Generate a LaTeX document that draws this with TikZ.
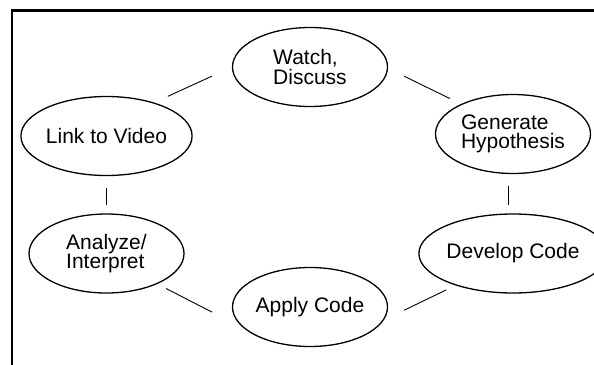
\documentclass[tikz,border=0pt]{standalone}
\usepackage{fontspec}
\setmainfont{Liberation Sans}
\usetikzlibrary{shapes.geometric}
\tikzset{
  bubble/.style={ellipse, draw=black, line width=1.3pt, inner sep=0pt,
    minimum width=155pt, minimum height=79pt, align=left,
    font=\fontsize{21pt}{19.5pt}\selectfont},
  link/.style={draw=black, line width=0.9pt},
  frame/.style={draw=black, line width=2.3pt}
}
\begin{document}
\begin{tikzpicture}[x=1pt,y=-1pt]
\useasboundingbox (0,0) rectangle (594,364);
\draw[frame] (12.2,366) -- (12.2,10.5) -- (596,10.5);
\node[bubble] (watch) at (310,67) {Watch,\\Discuss};
\node[bubble] (linkv) at (106.5,136) {Link to Video};
\node[bubble] (gen) at (513,134) {Generate\\Hypothesis};
\node[bubble] (ana) at (106.5,253.5) {Analyze/\\Interpret};
\node[bubble] (dev) at (513,253.5) {Develop Code};
\node[bubble] (apply) at (310,307) {Apply Code};
\draw[link, shorten <=15pt, shorten >=22pt] (linkv.35) -- (watch.180);
\draw[link, shorten <=18pt, shorten >=12.4pt] (watch.-1) -- (gen.150);
\draw[link, shorten <=11.5pt, shorten >=8pt] (linkv.south) -- (ana.north);
\draw[link, shorten <=11.5pt, shorten >=8pt] ([xshift=-5pt]gen.south) -- ([xshift=-5pt]dev.north);
\draw[link, shorten <=9.8pt, shorten >=35.8pt] (ana.-31) -- (apply.198);
\draw[link, shorten <=22.3pt, shorten >=10.2pt] (apply.-10) -- (dev.209);
\end{tikzpicture}
\end{document}
